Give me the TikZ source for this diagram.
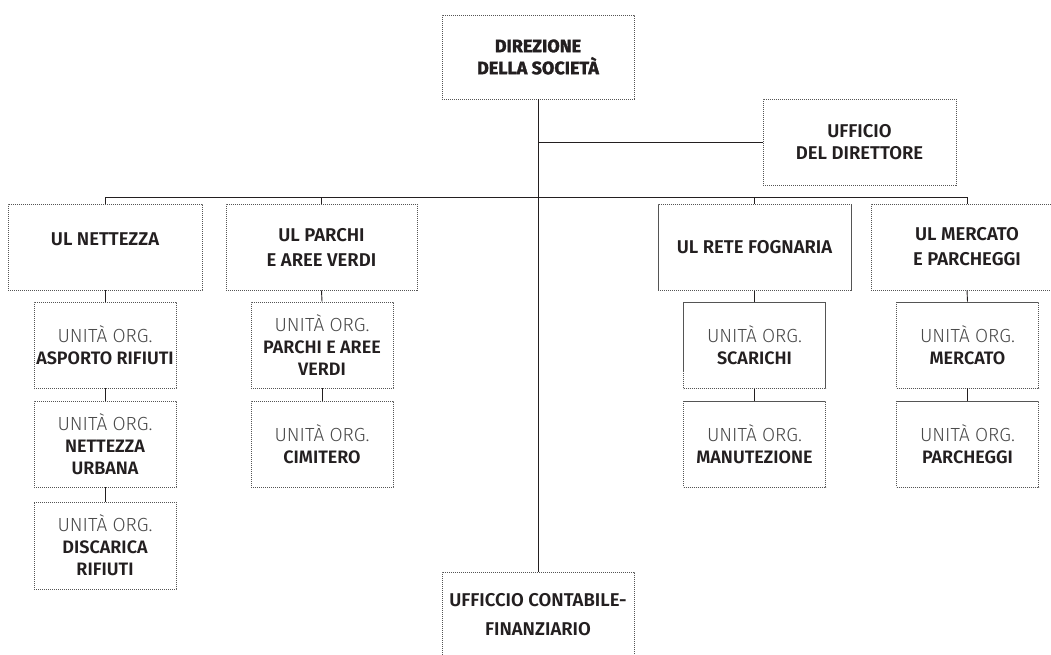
\documentclass[tikz,border=0pt]{standalone}
\usepackage{fontspec}
\setmainfont{Fira Sans}
\IfFontExistsTF{Fira Sans Light}{\newfontfamily\fLight{Fira Sans Light}}{\newfontfamily\fLight{Fira Sans}}
\IfFontExistsTF{Fira Sans SemiBold}{\newfontfamily\fSemi{Fira Sans SemiBold}}{\newfontfamily\fSemi{Fira Sans}[UprightFont=* Bold]}
\IfFontExistsTF{Fira Sans Bold}{\newfontfamily\fHeavy{Fira Sans Bold}[FakeBold=1.6]}{\newfontfamily\fHeavy{Fira Sans}[UprightFont=* Bold]}
\definecolor{ink}{HTML}{231F20}
\definecolor{boxline}{HTML}{555555}
\definecolor{soft}{HTML}{4A4A4A}
\newcommand\lt[1]{{\fLight\fontsize{19}{22}\selectfont\color{soft}#1}}
\begin{document}
\begin{tikzpicture}[x=1pt,y=-1pt,
  box/.style={draw=boxline, line width=0.8pt, dash pattern=on 1.2pt off 0.8pt, inner sep=0pt, align=center, text=ink},
  head/.style={box, font=\fSemi\fontsize{18.5}{25}\selectfont, minimum width=194pt, minimum height=86pt},
  unit/.style={box, font=\fSemi\fontsize{18}{22}\selectfont, minimum width=142pt, minimum height=86pt},
  link/.style={draw=ink, line width=0.9pt}]
\useasboundingbox (0,0) rectangle (1051,655);
\clip (0,0) rectangle (1051,655);
% top level
\node[box, font=\fHeavy\fontsize{18}{22}\selectfont, minimum width=192pt, minimum height=84pt] (top) at (538,57) {DIREZIONE\\DELLA SOCIETÀ};
\node[box, font=\fSemi\fontsize{18.5}{22.5}\selectfont, minimum width=193pt, minimum height=86pt] (uff) at (859.5,142) {UFFICIO\\DEL DIRETTORE};
\node[box, font=\fSemi\fontsize{18.5}{29}\selectfont, minimum width=192pt, minimum height=86pt] (fin) at (538,615) {UFFICCIO CONTABILE-\\FINANZIARIO};
% level 1
\node[head, text height=13pt, text depth=17pt] (n1) at (105,247) {UL NETTEZZA};
\node[head, minimum width=191pt] (n2) at (321.5,247) {UL PARCHI\\E AREE VERDI};
\node[head, minimum width=193pt] (n3) at (754.5,247.5) {UL RETE FOGNARIA};
\node[head, minimum width=192pt] (n4) at (967,247) {UL MERCATO\\E PARCHEGGI};
% level 2
\node[unit] (a1) at (105,345) {\lt{UNITÀ ORG.}\\ASPORTO RIFIUTI};
\node[unit] (a2) at (105,444) {\lt{UNITÀ ORG.}\\NETTEZZA\\URBANA};
\node[unit, minimum height=87pt] (a3) at (105,545.5) {\lt{UNITÀ ORG.}\\DISCARICA\\RIFIUTI};
\node[unit] (b1) at (322,345) {\lt{UNITÀ ORG.}\\PARCHI E AREE\\VERDI};
\node[unit] (b2) at (322,444) {\lt{UNITÀ ORG.}\\CIMITERO};
\node[unit] (c1) at (754.5,345.5) {\lt{UNITÀ ORG.}\\SCARICHI};
\node[unit] (c2) at (754.5,444) {\lt{UNITÀ ORG.}\\MANUTEZIONE};
\node[unit] (d1) at (967.5,345) {\lt{UNITÀ ORG.}\\MERCATO};
\node[unit] (d2) at (967.5,444) {\lt{UNITÀ ORG.}\\PARCHEGGI};
% connectors
\coordinate (bus) at (538,197);
\draw[link] (top.south) -- (fin.north);
\draw[link] (top.south |- uff.west) -- (uff.west);
\draw[link] (n1.north) -- (n1.north |- bus) -- (n4.north |- bus) -- (n4.north);
\draw[link] (n2.north) -- (n2.north |- bus);
\draw[link] (n3.north) -- (n3.north |- bus);
\draw[link] (n1.south) -- (a1.north);
\draw[link] (a1.south) -- (a2.north);
\draw[link] (a2.south) -- (a3.north);
\draw[link] (n2.south) -- (b1.north);
\draw[link] (b1.south) -- (b2.north);
\draw[link] (n3.south) -- (c1.north);
\draw[link] (c1.south) -- (c2.north);
\draw[link] (n4.south) -- (d1.north);
\draw[link] (d1.south) -- (d2.north);
\end{tikzpicture}
\end{document}
